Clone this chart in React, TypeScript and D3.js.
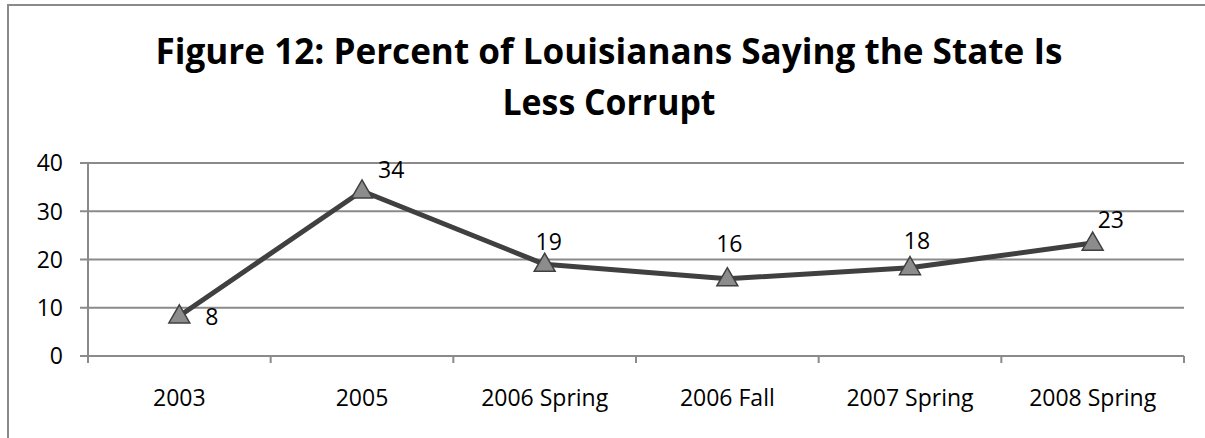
import React, { useEffect, useRef } from "react";
import * as d3 from "d3";

const categories = [
  "2003",
  "2005",
  "2006 Spring",
  "2006 Fall",
  "2007 Spring",
  "2008 Spring",
];
const values = [8.3, 34.2, 19, 16, 18.3, 23.4];
const yTicks = [0, 10, 20, 30, 40];
const titleLines = [
  "Figure 12: Percent of Louisianans Saying the State Is",
  "Less Corrupt",
];

// hand-placed label offsets (dx, dy, anchor) as in the original chart
const labelOffsets: [number, number, string][] = [
  [26, 9, "start"],
  [16, -13, "start"],
  [4, -14, "middle"],
  [2, -27, "middle"],
  [7, -19, "middle"],
  [5, -15, "start"],
];

const App = () => {
  const ref = useRef<SVGSVGElement | null>(null);

  useEffect(() => {
    const width = 1205;
    const height = 438;
    const left = 88;
    const right = 1184;
    const top = 163;
    const bottom = 356;
    const font = "'Open Sans', sans-serif";
    const gridColor = "#8a8a8a";

    const svg = d3.select(ref.current);
    svg.selectAll("*").remove();

    svg
      .append("rect")
      .attr("width", width)
      .attr("height", height)
      .attr("fill", "#fff");

    // outer chart border (right/bottom edges fall outside the frame)
    svg
      .append("rect")
      .attr("x", 8)
      .attr("y", 5)
      .attr("width", width + 20)
      .attr("height", height + 20)
      .attr("fill", "none")
      .attr("stroke", gridColor)
      .attr("stroke-width", 2);

    // title
    const titleWidths = [907, 213];
    svg
      .selectAll(".title")
      .data(titleLines)
      .enter()
      .append("text")
      .attr("class", "title")
      .attr("x", 609)
      .attr("y", (d, i) => 64 + i * 51)
      .attr("text-anchor", "middle")
      .attr("textLength", (d, i) => titleWidths[i])
      .attr("lengthAdjust", "spacingAndGlyphs")
      .style("font-family", font)
      .style("font-weight", "bold")
      .style("font-size", "36px")
      .style("fill", "#000")
      .text((d) => d);

    const x = d3.scaleBand().domain(categories).range([left, right]).padding(0);
    const y = d3.scaleLinear().domain([0, 40]).range([bottom, top]);
    const cx = (d: string) => (x(d) as number) + x.bandwidth() / 2;

    // gridlines + y ticks
    svg
      .selectAll(".grid")
      .data(yTicks)
      .enter()
      .append("line")
      .attr("x1", left - 8)
      .attr("x2", right)
      .attr("y1", (d) => y(d))
      .attr("y2", (d) => y(d))
      .attr("stroke", gridColor)
      .attr("stroke-width", 2);

    svg
      .selectAll(".ylab")
      .data(yTicks)
      .enter()
      .append("text")
      .attr("x", 63)
      .attr("y", (d) => y(d))
      .attr("dy", "0.36em")
      .attr("text-anchor", "end")
      .style("font-family", font)
      .style("font-size", "23px")
      .text((d) => d);

    // y axis line
    svg
      .append("line")
      .attr("x1", left)
      .attr("x2", left)
      .attr("y1", top)
      .attr("y2", bottom + 7)
      .attr("stroke", gridColor)
      .attr("stroke-width", 2);

    // x ticks at band edges
    const edges = categories.map((c) => x(c) as number).concat([right]);
    svg
      .selectAll(".xtick")
      .data(edges)
      .enter()
      .append("line")
      .attr("x1", (d) => d)
      .attr("x2", (d) => d)
      .attr("y1", bottom)
      .attr("y2", bottom + 7)
      .attr("stroke", gridColor)
      .attr("stroke-width", 2);

    svg
      .selectAll(".xlab")
      .data(categories)
      .enter()
      .append("text")
      .attr("x", (d) => cx(d))
      .attr("y", 406)
      .attr("text-anchor", "middle")
      .style("font-family", font)
      .style("font-size", "23px")
      .text((d) => d);

    // series line
    const pts: [number, number][] = categories.map((c, i) => [cx(c), y(values[i])]);
    const line = d3.line();
    svg
      .append("path")
      .attr("d", line(pts))
      .attr("fill", "none")
      .attr("stroke", "#404040")
      .attr("stroke-width", 5)
      .attr("stroke-linejoin", "round");

    // triangle markers
    const tri = d3.symbol().type(d3.symbolTriangle).size(190);
    svg
      .selectAll(".marker")
      .data(pts)
      .enter()
      .append("path")
      .attr("d", tri() as string)
      .attr("transform", (d) => `translate(${d[0]},${d[1] + 1})`)
      .attr("fill", "#8c8c8c")
      .attr("stroke", "#404040")
      .attr("stroke-width", 1.5);

    // data labels
    svg
      .selectAll(".dlab")
      .data(pts)
      .enter()
      .append("text")
      .attr("x", (d, i) => d[0] + labelOffsets[i][0])
      .attr("y", (d, i) => d[1] + labelOffsets[i][1])
      .attr("text-anchor", (d, i) => labelOffsets[i][2])
      .style("font-family", font)
      .style("font-size", "23px")
      .text((d, i) => d3.format(".0f")(values[i]));
  }, []);

  return (
    <svg
      ref={ref}
      width={1205}
      height={438}
      style={{ position: "absolute", left: 0, top: 0, display: "block" }}
    />
  );
};

export default App;
